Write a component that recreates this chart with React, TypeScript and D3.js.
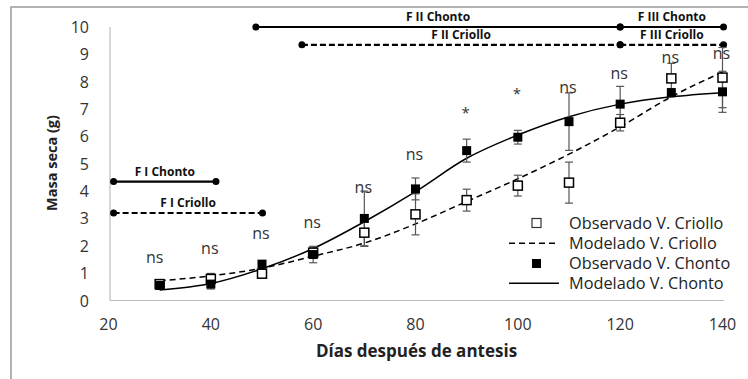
import React from "react";
import * as d3 from "d3";

const days = [30, 40, 50, 60, 70, 80, 90, 100, 110, 120, 130, 140];
const criolloObs = [0.6, 0.79, 0.98, 1.75, 2.48, 3.15, 3.67, 4.2, 4.31, 6.5, 8.12, 8.15];
const criolloErr = [0.1, 0.2, 0.1, 0.2, 0.5, 0.75, 0.4, 0.38, 0.75, 0.3, 0.55, 1.1];
const chontoObs = [0.55, 0.6, 1.33, 1.68, 3.0, 4.08, 5.48, 5.97, 6.54, 7.18, 7.6, 7.63];
const chontoErr = [0.1, 0.18, 0.1, 0.3, 1.0, 0.4, 0.42, 0.25, 1.05, 0.65, 0.15, 0.75];
const chontoModel = [0.38, 0.62, 1.16, 1.9, 2.88, 3.98, 5.2, 6.05, 6.72, 7.18, 7.45, 7.6];
const criolloModel = [0.72, 0.9, 1.18, 1.62, 2.1, 2.8, 3.62, 4.45, 5.35, 6.35, 7.45, 8.35];
const sigLabels = ["ns", "ns", "ns", "ns", "ns", "ns", "*", "*", "ns", "ns", "ns", "ns"];
const sigLevel = [1.6, 1.92, 2.47, 2.87, 4.16, 5.36, 6.9, 7.58, 7.82, 8.33, 8.91, 9.04];

const phaseNames = ["F I Chonto", "F I Criollo", "F II Chonto", "F II Criollo", "F III Chonto", "F III Criollo"];
const phaseStart = [21, 21, 48.8, 57.8, 120, 120];
const phaseEnd = [41, 50.1, 120, 120, 140.2, 140.2];
const phaseLevel = [4.35, 3.2, 10.0, 9.35, 10.0, 9.35];
const phaseDashed = [false, true, false, true, false, true];

const xTicks = [20, 40, 60, 80, 100, 120, 140];
const yTicks = [0, 1, 2, 3, 4, 5, 6, 7, 8, 9, 10];

const legendLabels = ["Observado V. Criollo", "Modelado V. Criollo", "Observado V. Chonto", "Modelado V. Chonto"];

const FONT = "'Open Sans', 'Noto Sans', sans-serif";

export default function App() {
  const x = d3.scaleLinear().domain([20, 140]).range([108.5, 722.5]);
  const y = d3.scaleLinear().domain([0, 10]).range([300.5, 27]);

  const line = d3
    .line<[number, number]>()
    .x((d) => x(d[0]))
    .y((d) => y(d[1]))
    .curve(d3.curveMonotoneX);

  const chontoPath = line(days.map((d, i) => [d, chontoModel[i]]) as [number, number][]) || "";
  const criolloPath = line(days.map((d, i) => [d, criolloModel[i]]) as [number, number][]) || "";

  const sq = 9;
  const cap = 4;

  const errBar = (d: number, v: number, e: number, key: string) => (
    <g key={key} stroke="#555" strokeWidth={1.2}>
      <line x1={x(d)} x2={x(d)} y1={y(v + e)} y2={y(v - e)} />
      <line x1={x(d) - cap} x2={x(d) + cap} y1={y(v + e)} y2={y(v + e)} />
      <line x1={x(d) - cap} x2={x(d) + cap} y1={y(v - e)} y2={y(v - e)} />
    </g>
  );

  return (
    <svg
      width={748}
      height={379}
      style={{ position: "absolute", left: 0, top: 0, background: "#fff" }}
      fontFamily={FONT}
    >
      {/* outer frame */}
      <path d="M11,379 L11,7 L748,7" fill="none" stroke="#9a9a9a" strokeWidth={1.5} />

      {/* axes */}
      <line x1={110} x2={110} y1={y(10)} y2={y(0)} stroke="#bdbdbd" strokeWidth={1.2} />
      <line x1={110} x2={724} y1={y(0)} y2={y(0)} stroke="#bdbdbd" strokeWidth={1.2} />

      {yTicks.map((t) => (
        <text key={"y" + t} x={89} y={y(t)} textAnchor="end" dominantBaseline="central" fontSize={16} fill="#333">
          {t}
        </text>
      ))}
      {xTicks.map((t) => (
        <text key={"x" + t} x={x(t)} y={324} textAnchor="middle" dominantBaseline="central" fontSize={16} fill="#333">
          {t}
        </text>
      ))}

      <text
        transform={`translate(51,163) rotate(-90)`}
        textAnchor="middle"
        dominantBaseline="central"
        fontSize={14.5}
        fontWeight="bold"
        fill="#222"
      >
        Masa seca (g)
      </text>
      <text x={416.5} y={350} textAnchor="middle" dominantBaseline="central" fontSize={17} fontWeight="bold" fill="#222">
        Días después de antesis
      </text>

      {/* phase bars */}
      {phaseNames.map((n, i) => {
        const x1 = x(phaseStart[i]);
        const x2 = x(phaseEnd[i]);
        const yy = y(phaseLevel[i]);
        return (
          <g key={"ph" + i}>
            <line
              x1={x1}
              x2={x2}
              y1={yy}
              y2={yy}
              stroke="#000"
              strokeWidth={2.2}
              strokeDasharray={phaseDashed[i] ? "6,3" : undefined}
            />
            <circle cx={x1} cy={yy} r={3.5} fill="#000" />
            <circle cx={x2} cy={yy} r={3.5} fill="#000" />
            <text
              x={(x1 + x2) / 2}
              y={yy - 10.5}
              textAnchor="middle"
              dominantBaseline="central"
              fontSize={12}
              fontWeight="bold"
              fill="#111"
            >
              {n}
            </text>
          </g>
        );
      })}

      {/* model lines */}
      <path d={criolloPath} fill="none" stroke="#000" strokeWidth={1.5} strokeDasharray="6,4" />
      <path d={chontoPath} fill="none" stroke="#000" strokeWidth={1.5} />

      {/* error bars */}
      {days.map((d, i) => errBar(d, criolloObs[i], criolloErr[i], "ec" + i))}
      {days.map((d, i) => errBar(d, chontoObs[i], chontoErr[i], "eh" + i))}

      {/* markers */}
      {days.map((d, i) => (
        <rect
          key={"mc" + i}
          x={x(d) - sq / 2}
          y={y(criolloObs[i]) - sq / 2}
          width={sq}
          height={sq}
          fill="#fff"
          stroke="#000"
          strokeWidth={1.5}
        />
      ))}
      {days.map((d, i) => (
        <rect
          key={"mh" + i}
          x={x(d) - sq / 2}
          y={y(chontoObs[i]) - sq / 2}
          width={sq}
          height={sq}
          fill="#000"
        />
      ))}

      {/* significance */}
      {days.map((d, i) => (
        <text
          key={"s" + i}
          x={x(d) - (i === 0 ? 5 : 1)}
          y={y(sigLevel[i])}
          textAnchor="middle"
          dominantBaseline="central"
          fontSize={sigLabels[i] === "*" ? 15 : 16}
          fill="#333"
        >
          {sigLabels[i]}
        </text>
      ))}

      {/* legend */}
      <g>
        <rect x={532} y={218.5} width={9} height={9} fill="#fff" stroke="#333" strokeWidth={1.2} />
        <line x1={509} x2={559} y1={243.3} y2={243.3} stroke="#000" strokeWidth={1.5} strokeDasharray="6,4" />
        <rect x={532} y={259} width={9} height={9} fill="#000" />
        <line x1={509} x2={559} y1={283.3} y2={283.3} stroke="#000" strokeWidth={1.5} />
        {legendLabels.map((l, i) => (
          <text key={"l" + i} x={569} y={223 + i * 20} dominantBaseline="central" fontSize={16.3} fill="#222">
            {l}
          </text>
        ))}
      </g>
    </svg>
  );
}
